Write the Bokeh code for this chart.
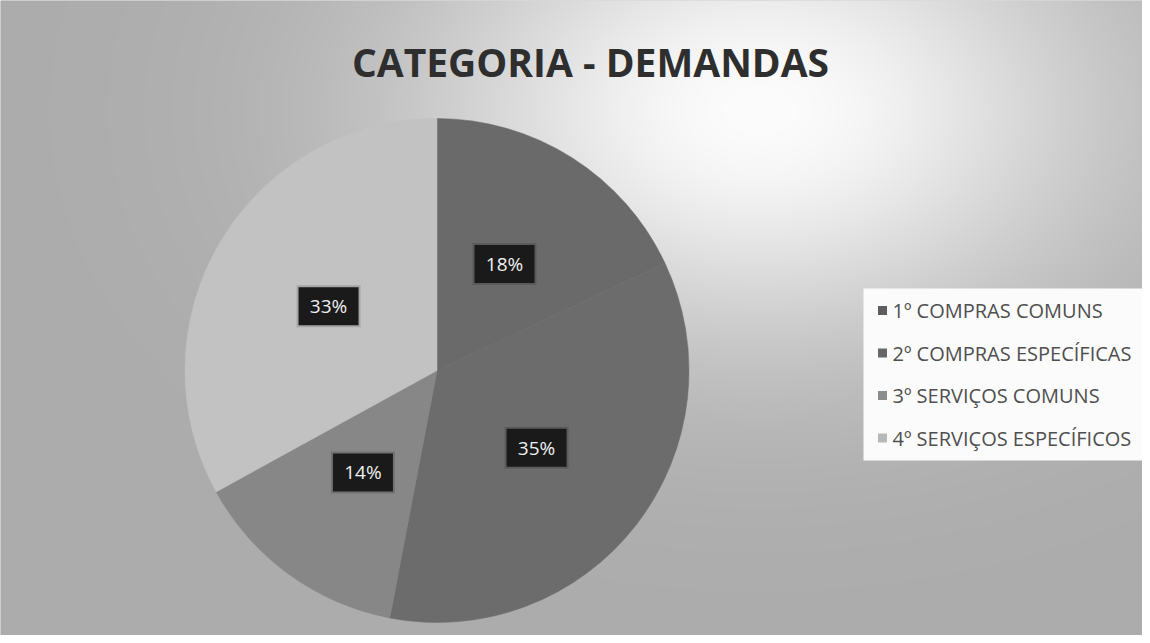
import numpy as np
from bokeh.plotting import figure
from bokeh.models import ColumnDataSource, Range1d
from bokeh.core.properties import value
from bokeh.embed import file_html
from bokeh.resources import INLINE

# ---- data ----
categories = ["1º COMPRAS COMUNS", "2º COMPRAS ESPECÍFICAS", "3º SERVIÇOS COMUNS", "4º SERVIÇOS ESPECÍFICOS"]
percentages = [18, 35, 14, 33]
title_text = "CATEGORIA - DEMANDAS"

# ---- styles ----
slice_colors = ["#6a6a6a", "#6c6c6c", "#878787", "#c2c2c2"]
legend_colors = ["#5e5e5e", "#676767", "#8c8c8c", "#b8b8b8"]

W, H = 1142, 635
p = figure(width=W, height=H, x_range=Range1d(0, W), y_range=Range1d(0, H),
           output_backend="svg", toolbar_location=None, min_border=0)
p.axis.visible = False
p.grid.visible = False
p.outline_line_color = None
p.background_fill_color = "#b4b4b4"
p.border_fill_color = "white"

# background gradient (scanned page look)
cols = np.arange(W) + 0.5
rows = np.arange(H)
py = H - (rows + 0.5)
X, Y = np.meshgrid(cols, py)
v = 172 + 80 * np.exp(-(((X - 760) / 340) ** 2 + ((Y - 110) / 230) ** 2))
v = np.clip(v, 0, 255).astype(np.uint8)
img = np.empty((H, W), dtype=np.uint32)
view = img.view(dtype=np.uint8).reshape((H, W, 4))
view[..., 0] = v
view[..., 1] = v
view[..., 2] = v
view[..., 3] = 255
p.image_rgba(image=[img], x=0, y=0, dw=W, dh=H)

# pie
cx, cy, R = 436.5, H - 370.0, 252.0
frac = np.array(percentages, dtype=float) / sum(percentages)
cum = np.concatenate([[0.0], np.cumsum(frac)])
start = np.pi / 2 - 2 * np.pi * cum[:-1]
end = np.pi / 2 - 2 * np.pi * cum[1:]
mid = (start + end) / 2
src = ColumnDataSource(dict(
    start=start, end=end, color=slice_colors,
    lx=cx + 0.5 * R * np.cos(mid), ly=cy + 0.5 * R * np.sin(mid),
    label=[f"{v}%" for v in percentages],
))
p.wedge(x=cx, y=cy, radius=R, start_angle="start", end_angle="end", direction="clock",
        fill_color="color", line_color="color", line_width=0.5, source=src)

# data labels (dark callout boxes)
p.rect(x="lx", y="ly", width=64, height=42, fill_color="#000000", fill_alpha=0.15,
       line_color=None, source=src)
p.rect(x="lx", y="ly", width=60, height=38, fill_color="#1a1a1a", line_color=None, source=src)
p.text(x="lx", y="ly", text="label", text_align="center", text_baseline="middle",
       text_color="#f0f0f0", text_font_size="19px", text_font=value("Open Sans"), source=src)

# title
p.text(x=[590], y=[H - 61], text=[title_text], text_align="center", text_baseline="middle",
       text_color="#2e2e2e", text_font_size="39px", text_font_style="bold",
       text_font=value("Open Sans"))

# legend
p.rect(x=[1004], y=[H - 374], width=282, height=172, fill_color="#fbfbfb", line_color=None)
n = len(categories)
leg = ColumnDataSource(dict(
    y=[H - 310 - i * 42.5 for i in range(n)], text=categories, color=legend_colors,
))
p.scatter(x=882, y="y", size=9, marker="square", fill_color="color", line_color=None, source=leg)
p.text(x=892, y="y", text="text", text_align="left", text_baseline="middle",
       text_color="#4f4f4f", text_font_size="20px", text_font=value("Open Sans"), source=leg)

open("out.html", "w").write(file_html(p, INLINE))
